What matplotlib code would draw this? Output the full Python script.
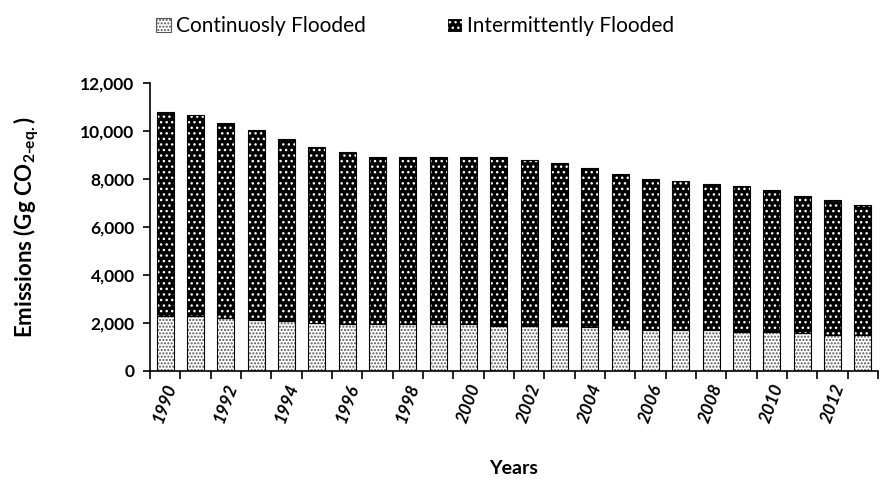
import numpy as np
import matplotlib
matplotlib.use("Agg")
import matplotlib.pyplot as plt
from matplotlib.patches import Patch

plt.rcParams['font.family'] = ['Lato', 'DejaVu Sans']
plt.rcParams['mathtext.fontset'] = 'custom'
plt.rcParams['mathtext.rm'] = 'Lato:bold'
plt.rcParams['mathtext.bf'] = 'Lato:bold'
plt.rcParams['hatch.linewidth'] = 1.0

# Datos (Gg CO2-eq.)
years = list(range(1990, 2014))
continuous = [2280, 2280, 2200, 2140, 2080, 2010, 1940, 1940, 1940, 1940, 1940, 1880,
              1880, 1880, 1820, 1750, 1690, 1690, 1690, 1620, 1620, 1560, 1500, 1500]
intermittent = [8520, 8400, 8120, 7890, 7570, 7340, 7170, 6990, 6990, 6990, 6990, 7050,
                6910, 6800, 6620, 6460, 6320, 6210, 6090, 6100, 5920, 5720, 5610, 5430]
yticks = [0, 2000, 4000, 6000, 8000, 10000, 12000]

x = np.arange(len(years))
w = 0.56

fig = plt.figure(figsize=(8.87, 4.86), dpi=100)
ax = fig.add_axes([0.169, 0.237, 0.821, 0.592])

# Continuamente inundado: fondo blanco con puntos grises
ax.bar(x, continuous, w, color='white', edgecolor='#555555', hatch='.....', linewidth=0)
ax.bar(x, continuous, w, fill=False, edgecolor='black', linewidth=0.8)
# Intermitentemente inundado: fondo negro con puntos blancos
ax.bar(x, intermittent, w, bottom=continuous, color='black', edgecolor='white',
       hatch='...', linewidth=0)
ax.bar(x, intermittent, w, bottom=continuous, fill=False, edgecolor='black', linewidth=0.8)

ax.set_ylim(0, 12000)
ax.set_xlim(-0.5, len(years) - 0.5)
ax.set_yticks(yticks)
ax.set_yticklabels([f'{v:,}' for v in yticks], fontsize=12.5, fontweight='bold')

# marcas entre barras, etiquetas cada dos años
ax.set_xticks(np.arange(len(years) + 1) - 0.5)
ax.set_xticklabels([])
ax.set_xticks(x[::2], minor=True)
ax.set_xticklabels([str(y) for y in years[::2]], minor=True, rotation=70,
                   fontsize=12.5, fontweight='bold', fontstyle='italic')
ax.tick_params(axis='x', which='major', direction='out', length=6, width=1.2)
ax.tick_params(axis='x', which='minor', length=0, pad=8)
ax.tick_params(axis='y', direction='out', length=5, width=1.2, pad=6)

for s in ['top', 'right']:
    ax.spines[s].set_visible(False)
for s in ['left', 'bottom']:
    ax.spines[s].set_linewidth(1.2)

ax.set_xlabel('Years', fontsize=14, fontweight='bold', labelpad=25)
ax.set_ylabel(r'Emissions (Gg CO$_{\mathbf{2\text{-}eq.}}$)', fontsize=16,
              fontweight='bold', labelpad=28)

handles = [Patch(facecolor='white', edgecolor='#555555', hatch='.....', linewidth=0.8),
           Patch(facecolor='black', edgecolor='white', hatch='...', linewidth=0.8)]
fig.legend(handles, ['Continuosly Flooded', 'Intermittently Flooded'], ncol=2,
           loc='upper left', bbox_to_anchor=(0.155, 1.005), frameon=False, fontsize=15,
           handlelength=0.7, handleheight=0.7, handletextpad=0.25, columnspacing=3.9)

fig.savefig('out.png', dpi=100)
